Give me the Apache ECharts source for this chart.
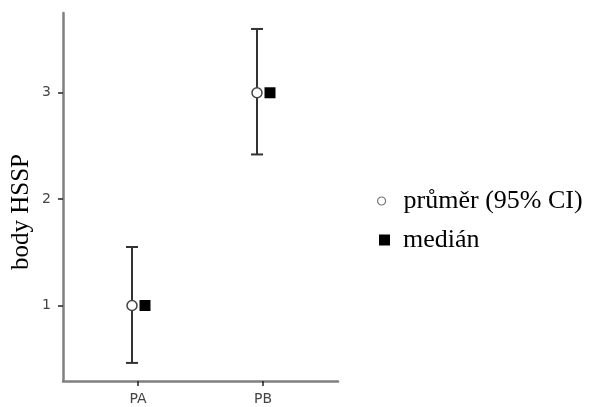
<!DOCTYPE html>
<html>
<head>
<meta charset="utf-8">
<script src="https://cdn.jsdelivr.net/npm/echarts@6/dist/echarts.min.js"></script>
<style>html,body{margin:0;padding:0;background:#fff}#c{width:589px;height:407px}</style>
</head>
<body>
<div id="c"></div>
<script>
const categories = ['PA', 'PB'];
const meanValues = [1, 3];
const ciLower = [0.46, 2.42];
const ciUpper = [1.55, 3.6];
const medianValues = [1, 3];
const yTicks = [1, 2, 3];
const seriesNames = ['průměr (95% CI)', 'medián'];

const xPos = categories.map((c, i) => i + 1);
const chart = echarts.init(document.getElementById('c'));

const errData = xPos.map((x, i) => [x, ciLower[i], ciUpper[i]]);
const meanData = xPos.map((x, i) => [x, meanValues[i]]);
const medData = xPos.map((x, i) => [x, medianValues[i]]);

const legendText = { fontFamily: 'Liberation Serif', fontSize: 26, color: '#000' };

chart.setOption({
  animation: false,
  backgroundColor: '#fff',
  grid: { left: 63, right: 251, top: 13, bottom: 26 },
  legend: [
    {
      orient: 'vertical',
      left: 372,
      top: 183,
      itemWidth: 8,
      itemHeight: 8,
      selectedMode: false,
      textStyle: Object.assign({ padding: [0, 0, 0, 13] }, legendText),
      data: [
        { name: seriesNames[0], icon: 'circle', itemStyle: { color: '#fff', borderColor: '#777', borderWidth: 1.2 } }
      ]
    },
    {
      orient: 'vertical',
      left: 374,
      top: 222,
      itemWidth: 11,
      itemHeight: 11,
      selectedMode: false,
      textStyle: Object.assign({ padding: [0, 0, 0, 8] }, legendText),
      data: [
        { name: seriesNames[1], icon: 'rect', itemStyle: { color: '#000', borderWidth: 0 } }
      ]
    }
  ],
  xAxis: {
    type: 'value',
    min: 0.4,
    max: 2.6,
    splitLine: { show: false },
    axisLine: { show: true, lineStyle: { color: '#808080', width: 2.5 } },
    axisTick: { show: true, customValues: xPos, length: 5, lineStyle: { color: '#222', width: 1.5 } },
    axisLabel: {
      customValues: xPos,
      margin: 11,
      fontFamily: 'DejaVu Sans', fontSize: 14, color: '#444',
      formatter: v => categories[Math.round(v) - 1] || ''
    }
  },
  yAxis: {
    type: 'value',
    min: 0.29,
    max: 3.75,
    name: 'body HSSP',
    nameLocation: 'middle',
    nameGap: 29,
    nameTextStyle: { fontFamily: 'Liberation Serif', fontSize: 25, color: '#000', padding: [0, 30, 0, 0] },
    splitLine: { show: false },
    axisLine: { show: true, lineStyle: { color: '#808080', width: 2.5 } },
    axisTick: { show: true, customValues: yTicks, length: 5, lineStyle: { color: '#222', width: 1.5 } },
    axisLabel: {
      customValues: yTicks,
      margin: 12,
      fontFamily: 'DejaVu Sans', fontSize: 14, color: '#444'
    }
  },
  series: [
    {
      type: 'custom',
      name: 'ci',
      data: errData,
      z: 2,
      renderItem: function (params, api) {
        const x = api.value(0);
        const lo = api.coord([x, api.value(1)]);
        const hi = api.coord([x, api.value(2)]);
        const px = lo[0] - 6;
        const cap = 6;
        const style = { stroke: '#333', lineWidth: 2 };
        return {
          type: 'group',
          children: [
            { type: 'line', shape: { x1: px, y1: lo[1], x2: px, y2: hi[1] }, style },
            { type: 'line', shape: { x1: px - cap, y1: hi[1], x2: px + cap, y2: hi[1] }, style },
            { type: 'line', shape: { x1: px - cap, y1: lo[1], x2: px + cap, y2: lo[1] }, style }
          ]
        };
      }
    },
    {
      type: 'scatter',
      name: seriesNames[0],
      data: meanData,
      z: 3,
      symbol: 'circle',
      symbolSize: 10,
      symbolOffset: [-6, 0],
      itemStyle: { color: '#fff', borderColor: '#444', borderWidth: 1.5, opacity: 1 }
    },
    {
      type: 'scatter',
      name: seriesNames[1],
      data: medData,
      z: 3,
      symbol: 'rect',
      symbolSize: 11,
      symbolOffset: [7, 0],
      itemStyle: { color: '#000', opacity: 1 }
    }
  ]
});
</script>
</body>
</html>
